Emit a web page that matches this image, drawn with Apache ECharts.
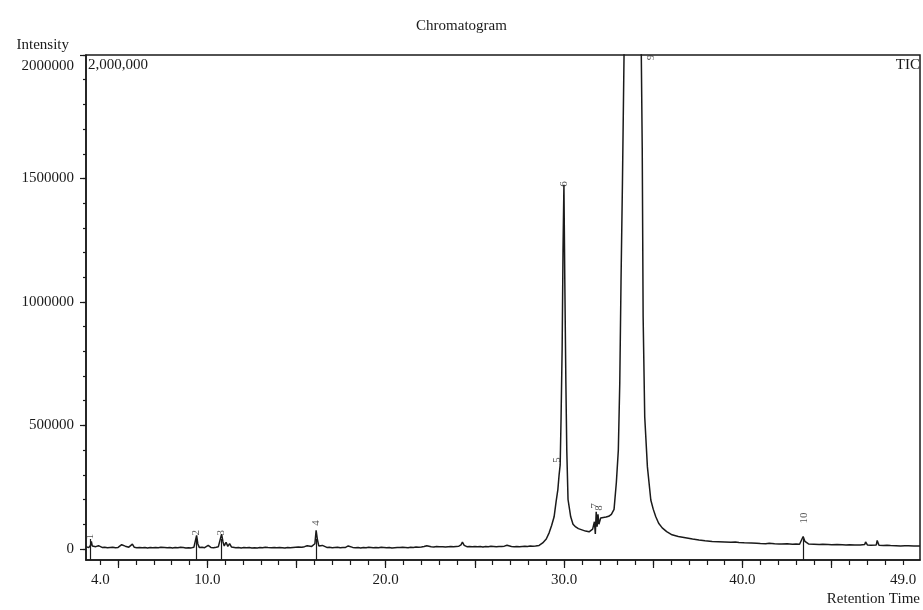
<!DOCTYPE html>
<html>
<head>
<meta charset="utf-8">
<script src="https://cdn.jsdelivr.net/npm/echarts@6/dist/echarts.min.js"></script>
<style>html,body{margin:0;padding:0;background:#fff}#c{width:923px;height:610px}</style>
</head>
<body>
<div id="c"></div>
<script>
// TIC trace as [retention time (min), intensity] pairs, by region
const earlyTrace = [[3.2,9000],[3.3,6000],[3.35,5000],[3.45,14000],[3.5,30000],[3.55,12000],[3.65,6000],[3.75,9000],[3.8,7000],[3.9,13000],[4.0,15000],[4.1,6000],[4.25,7000],[4.4,5000],[4.55,6000],[4.7,7000],[4.85,5000],[5.0,6000],[5.1,9000],[5.2,17000],[5.3,10000],[5.4,11000],[5.5,13000],[5.6,7000],[5.7,8000],[5.8,19000],[5.9,7000],[6.05,5000],[6.2,6000],[6.35,5000],[6.5,6000],[6.65,4000],[6.8,6000],[6.95,5000],[7.1,6000],[7.25,5000],[7.4,7000],[7.5,13000],[7.6,6000],[7.75,5000],[7.9,6000],[8.05,4000],[8.2,6000],[8.35,5000],[8.5,7000],[8.65,6000],[8.8,4000],[8.95,5000],[9.1,4000],[9.25,7000],[9.33,12000],[9.4,55000],[9.47,20000],[9.55,6000],[9.7,7000],[9.85,5000],[9.95,9000],[10.05,14000],[10.2,6000],[10.35,5000],[10.5,7000],[10.62,9000],[10.72,15000],[10.8,60000],[10.88,28000],[10.95,12000],[11.05,27000],[11.15,10000],[11.25,21000],[11.35,8000],[11.45,7000],[11.6,5000],[11.75,6000],[11.9,4000],[12.05,6000],[12.2,5000],[12.35,6000],[12.5,4000],[12.65,5000],[12.8,4000],[12.95,6000],[13.1,5000],[13.25,7000],[13.4,6000],[13.5,14000],[13.6,5000],[13.75,6000],[13.9,5000],[14.05,6000],[14.2,5000],[14.35,4000],[14.5,6000],[14.65,5000],[14.8,6000],[14.95,7000],[15.1,8000],[15.2,11000],[15.3,7000],[15.45,9000],[15.6,13000],[15.7,8000],[15.85,10000],[15.95,12000],[16.03,21000],[16.1,75000],[16.17,38000],[16.25,12000],[16.35,10000],[16.45,14000],[16.55,8000],[16.7,6000],[16.85,7000]];
const midTrace = [[17.0,5000],[17.15,6000],[17.3,7000],[17.45,5000],[17.6,6000],[17.75,6000],[17.9,12000],[18.0,7000],[18.15,6000],[18.3,5000],[18.45,6000],[18.6,4000],[18.75,6000],[18.9,5000],[19.05,7000],[19.15,10000],[19.3,5000],[19.45,6000],[19.6,5000],[19.75,7000],[19.9,6000],[20.05,5000],[20.2,6000],[20.35,4000],[20.5,5000],[20.65,6000],[20.8,6000],[20.95,7000],[21.1,6000],[21.25,5000],[21.4,7000],[21.55,6000],[21.7,8000],[21.85,7000],[22.0,8000],[22.15,10000],[22.3,13000],[22.4,8000],[22.55,9000],[22.7,8000],[22.85,10000],[23.0,9000],[23.1,15000],[23.2,9000],[23.35,8000],[23.5,9000],[23.65,10000],[23.8,9000],[23.95,10000],[24.1,11000],[24.22,16000],[24.3,27000],[24.4,14000],[24.55,9000],[24.7,10000],[24.85,9000],[25.0,10000],[25.15,9000],[25.3,10000],[25.45,8000],[25.6,10000],[25.75,9000],[25.9,11000],[26.05,10000],[26.2,9000],[26.35,10000],[26.5,10000],[26.65,11000],[26.8,15000],[26.9,11000],[27.05,10000],[27.2,9000],[27.35,10000],[27.5,9000],[27.65,10000],[27.8,11000],[27.95,10000],[28.1,12000],[28.25,11000],[28.4,12000]];
const peakTrace = [[28.6,14000],[28.8,24000],[29.0,40000],[29.16,65000],[29.3,95000],[29.44,130000],[29.55,190000],[29.65,240000],[29.72,300000],[29.78,340000],[29.83,530000],[29.89,810000],[29.94,1210000],[29.99,1475000],[30.04,1080000],[30.1,670000],[30.15,400000],[30.22,200000],[30.37,130000],[30.5,100000],[30.65,89000],[30.8,82000],[31.0,77000],[31.2,72000],[31.4,69000],[31.6,80000],[31.7,110000],[31.75,60000],[31.8,150000],[31.85,90000],[31.9,140000],[31.95,100000],[32.05,125000],[32.2,127000],[32.35,129000],[32.5,132000],[32.65,140000],[32.8,160000],[32.93,270000],[33.04,400000],[33.12,670000],[33.19,1080000],[33.27,1480000],[33.36,2000000],[33.6,3000000],[33.9,3500000],[34.2,2800000],[34.3,2200000],[34.38,1620000],[34.43,940000],[34.52,534000],[34.67,332000],[34.86,198000],[35.0,160000],[35.14,130000],[35.3,104000],[35.5,85000],[35.75,70000],[36.05,57000],[36.4,50000],[36.8,45000]];
const tailTrace = [[37.2,40000],[37.56,36000],[37.9,33000],[38.3,30000],[38.65,29000],[39.0,28000],[39.35,27000],[39.6,28000],[39.7,32000],[39.8,26000],[40.1,25000],[40.5,24000],[40.8,23000],[41.0,22000],[41.3,21000],[41.5,23000],[41.8,21000],[42.05,20000],[42.1,26000],[42.2,20000],[42.5,21000],[42.8,19000],[43.0,20000],[43.2,19000],[43.3,25000],[43.4,50000],[43.5,30000],[43.7,20000],[44.0,19000],[44.3,18000],[44.5,19000],[44.8,18000],[45.0,17000],[45.3,18000],[45.6,17000],[45.8,16000],[46.0,17000],[46.3,16000],[46.6,16000],[46.85,18000],[46.9,28000],[47.0,16000],[47.2,15000],[47.5,16000],[47.55,34000],[47.65,15000],[47.9,14000],[48.1,15000],[48.3,14000],[48.6,13000],[48.86,12000],[49.1,13000],[49.3,13000],[49.6,12000],[49.95,12000]];

// Peak numbers and where they are annotated
const peakNumbers = ['1','2','3','4','5','6','7','8','9','10'];
const peakRT      = [3.41,9.4,10.8,16.1,29.6,30.0,31.75,31.95,34.85,43.45];
const peakLabelY  = [50000,65000,65000,105000,360000,1478000,174000,166000,1990000,125000];
const dropLineRT  = [3.45,9.4,10.8,16.1,43.4];

// Axis ticks and labels
const xLabelValues = [4,10,20,30,40,49];
const xMinorTicks = []; for (let v = 4; v <= 49; v++) xMinorTicks.push(v);
const xMajorTicks = [5,10,15,20,25,30,35,40,45];
const yLabelValues = [0,500000,1000000,1500000,2000000];
const yMinorTicks = []; for (let v = 0; v <= 2000000; v += 100000) yMinorTicks.push(v);

const X_MIN = 3.2, X_MAX = 49.95, Y_MIN = -45000, Y_MAX = 2000000;
const FONT = 'Liberation Serif';
const INK = '#1a1a1a';

const trace = [].concat(earlyTrace, midTrace, peakTrace, tailTrace);

const chart = echarts.init(document.getElementById('c'), null, {renderer: 'canvas'});
chart.setOption({
  animation: false,
  backgroundColor: '#fff',
  textStyle: {fontFamily: FONT, color: INK},
  title: [
    {text: 'Chromatogram', left: 'center', top: 14, textStyle: {fontFamily: FONT, fontSize: 15, fontWeight: 'normal', color: INK}},
    {text: '2,000,000', left: 88, top: 58, padding: 0, textStyle: {fontFamily: FONT, fontSize: 15, fontWeight: 'normal', color: INK}},
    {text: 'TIC', right: 3, top: 58, padding: 0, textStyle: {fontFamily: FONT, fontSize: 15, fontWeight: 'normal', color: INK}}
  ],
  grid: {left: 86, right: 2, top: 55, bottom: 50, show: true, borderColor: INK, borderWidth: 1.5, backgroundColor: 'transparent'},
  xAxis: [
    {
      type: 'value', min: X_MIN, max: X_MAX, position: 'bottom',
      name: 'Retention Time', nameLocation: 'end', nameGap: 0,
      nameTextStyle: {fontFamily: FONT, fontSize: 15, color: INK, align: 'right', verticalAlign: 'top', padding: [32, 0, 0, 0]},
      axisLine: {show: true, onZero: false, lineStyle: {color: INK, width: 1.5}},
      axisTick: {show: true, length: 5, customValues: xMinorTicks, lineStyle: {color: INK, width: 1.2}},
      axisLabel: {show: true, customValues: xLabelValues, margin: 13, fontFamily: FONT, fontSize: 15, color: INK,
        formatter: v => v.toFixed(1)},
      splitLine: {show: false}
    },
    {
      type: 'value', min: X_MIN, max: X_MAX, position: 'bottom',
      axisLine: {show: false, onZero: false},
      axisTick: {show: true, length: 8, customValues: xMajorTicks, lineStyle: {color: INK, width: 1.2}},
      axisLabel: {show: false},
      splitLine: {show: false}
    }
  ],
  yAxis: [
    {
      type: 'value', min: Y_MIN, max: Y_MAX, position: 'left',
      name: 'Intensity', nameLocation: 'end', nameGap: 10,
      nameTextStyle: {fontFamily: FONT, fontSize: 15, color: INK, align: 'right', verticalAlign: 'middle', padding: [0, 17, 0, 0]},
      axisLine: {show: true, onZero: false, lineStyle: {color: INK, width: 1.5}},
      axisTick: {show: true, length: 3, customValues: yMinorTicks, lineStyle: {color: INK, width: 1.2}},
      axisLabel: {show: true, customValues: yLabelValues, margin: 12, fontFamily: FONT, fontSize: 15, color: INK,
        formatter: v => v === Y_MAX ? '{top|' + v + '}' : String(v),
        rich: {top: {fontFamily: FONT, fontSize: 15, color: INK, padding: [22, 0, 0, 0]}}},
      splitLine: {show: false}
    },
    {
      type: 'value', min: Y_MIN, max: Y_MAX, position: 'left',
      axisLine: {show: false, onZero: false},
      axisTick: {show: true, length: 6, customValues: yLabelValues, lineStyle: {color: INK, width: 1.2}},
      axisLabel: {show: false},
      splitLine: {show: false}
    }
  ],
  series: [
    {
      name: 'TIC', type: 'line', xAxisIndex: 0, yAxisIndex: 0,
      data: trace,
      showSymbol: false, symbol: 'none', clip: true,
      lineStyle: {color: INK, width: 1.5},
      markLine: {
        silent: true, symbol: 'none',
        lineStyle: {color: INK, width: 1.2, type: 'solid'},
        label: {show: false},
        data: dropLineRT.map(t => [{coord: [t, Y_MIN]}, {coord: [t, 40000]}])
      }
    },
    {
      name: 'peaks', type: 'scatter', xAxisIndex: 0, yAxisIndex: 0,
      data: peakRT.map((t, i) => ({value: [t, peakLabelY[i]], name: peakNumbers[i]})),
      symbolSize: 0, clip: false,
      label: {show: true, position: 'inside', rotate: 90, formatter: p => p.name,
        fontFamily: FONT, fontSize: 11, color: '#2a2a2a'}
    }
  ]
});
</script>
</body>
</html>
